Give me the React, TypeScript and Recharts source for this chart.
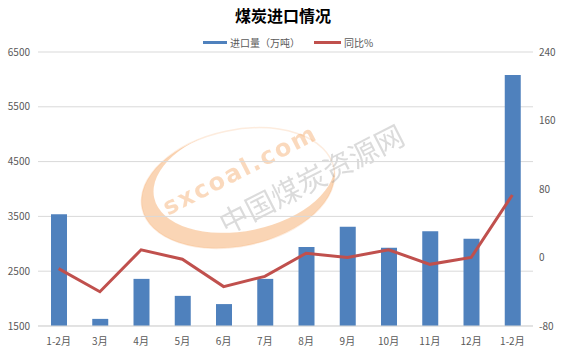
import {Bar, CartesianGrid, ComposedChart, Line, XAxis, YAxis} from 'recharts';

const months = ['1-2月', '3月', '4月', '5月', '6月', '7月', '8月', '9月', '10月', '11月', '12月', '1-2月'];
const importVolume = [3540, 1630, 2360, 2050, 1900, 2360, 2940, 3310, 2930, 3230, 3090, 6080];
const yoyChange = [-13, -40, 9, -2, -34, -22, 5, 0, 9, -8, 0, 73];
const leftTicks = [1500, 2500, 3500, 4500, 5500, 6500];
const rightTicks = [-80, 0, 80, 160, 240];

const chartData = months.map((name, i) => ({
  name,
  volume: importVolume[i],
  yoy: yoyChange[i],
}));

const FONT = '"Noto Sans CJK SC", "Noto Sans", sans-serif';
const BLUE = '#4f81bd';
const RED = '#c0504d';
const TICK = {fontSize: 10, fill: '#595959', fontFamily: FONT};

// faint site watermark behind the plot
const Watermark = () => (
  <svg width={566} height={360} style={{position: 'absolute', left: 0, top: 0}}>
    <defs>
      <mask id="crescent">
        <rect x={0} y={0} width={566} height={360} fill="#000"/>
        <ellipse cx={238} cy={188} rx={98} ry={58} fill="#fff"/>
        <ellipse cx={246} cy={180} rx={92} ry={52} fill="#000"/>
      </mask>
    </defs>
    <g transform="rotate(-12 238 188)">
      <ellipse cx={238} cy={188} rx={98} ry={58} fill="none" stroke="#f6b47a" strokeWidth={1.5} opacity={0.25}/>
      <rect x={130} y={120} width={220} height={140} fill="#f5a35c" opacity={0.45} mask="url(#crescent)"/>
    </g>
    <text x={240} y={178} textAnchor="middle" fontSize={24} fontWeight="bold" fill="#f5a35c" opacity={0.4}
          fontFamily="Verdana, 'DejaVu Sans', sans-serif" letterSpacing={2} transform="rotate(-27 240 170)">sxcoal.com</text>
    <text x={312} y={190} textAnchor="middle" fontSize={29} fill="#9a9a9a" opacity={0.35} fontFamily={FONT}
          transform="rotate(-27 312 180)">中国煤炭资源网</text>
  </svg>
);

export default function App() {
  return (
    <div style={{position: 'absolute', left: 0, top: 0, width: 566, height: 360, background: '#fff', fontFamily: FONT}}>
      <Watermark/>
      <div style={{position: 'absolute', left: 0, top: 3, width: 566, textAlign: 'center', fontSize: 16, fontWeight: 'bold', color: '#000'}}>
        煤炭进口情况
      </div>
      <div style={{position: 'absolute', left: 0, top: 35, width: 566, display: 'flex', justifyContent: 'center', alignItems: 'center', fontSize: 10, color: '#595959', paddingLeft: 10, boxSizing: 'border-box'}}>
        <span style={{display: 'inline-block', width: 24, height: 3, background: BLUE, marginRight: 3}}/>
        <span style={{marginRight: 14}}>进口量（万吨）</span>
        <span style={{display: 'inline-block', width: 27, height: 3, background: RED, marginRight: 3}}/>
        <span>同比%</span>
      </div>
      <div style={{position: 'absolute', left: 0, top: 0}}>
        <ComposedChart width={566} height={360} data={chartData} margin={{top: 52, right: 0, bottom: 0, left: 0}}>
          <CartesianGrid yAxisId="left" vertical={false} stroke="#d9d9d9"/>
          <XAxis dataKey="name" height={34} tickLine={false} axisLine={{stroke: '#d9d9d9'}} tick={TICK} tickMargin={6} interval={0}/>
          <YAxis yAxisId="left" width={38} domain={[1500, 6500]} ticks={leftTicks} axisLine={false} tickLine={false}
                 tickSize={0} tickMargin={8} tick={TICK}/>
          <YAxis yAxisId="right" orientation="right" width={33} domain={[-80, 240]} ticks={rightTicks} axisLine={false}
                 tickLine={false} tickSize={0} tickMargin={6} tick={{...TICK, textAnchor: 'start'}}/>
          <Bar yAxisId="left" dataKey="volume" fill={BLUE} barSize={16} isAnimationActive={false}/>
          <Line yAxisId="right" dataKey="yoy" type="linear" stroke={RED} strokeWidth={3} dot={false} isAnimationActive={false}/>
        </ComposedChart>
      </div>
    </div>
  );
}
